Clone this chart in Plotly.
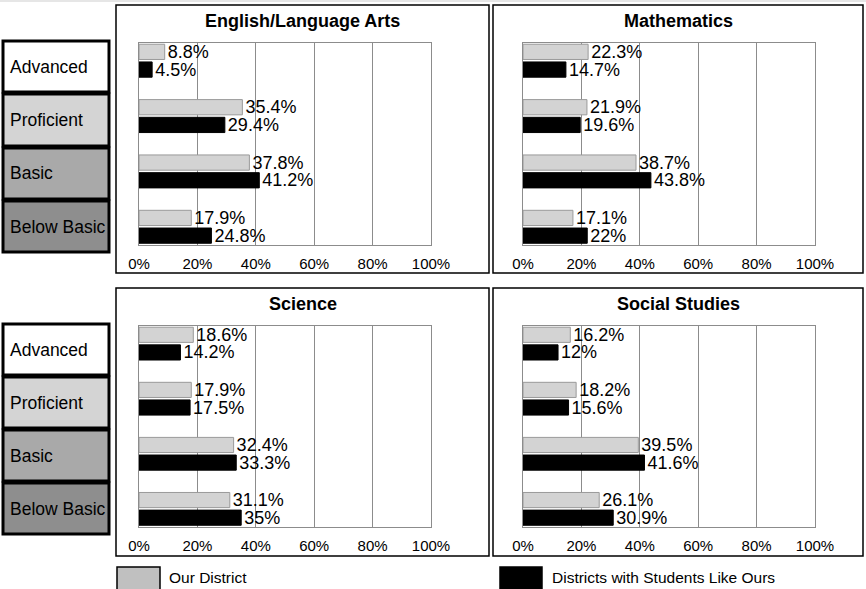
import plotly.graph_objects as go

W, H = 866, 589

categories = ["Advanced", "Proficient", "Basic", "Below Basic"]
subjects = ["English/Language Arts", "Mathematics", "Science", "Social Studies"]

our_ela = [8.8, 35.4, 37.8, 17.9]
like_ela = [4.5, 29.4, 41.2, 24.8]
our_math = [22.3, 21.9, 38.7, 17.1]
like_math = [14.7, 19.6, 43.8, 22]
our_sci = [18.6, 17.9, 32.4, 31.1]
like_sci = [14.2, 17.5, 33.3, 35]
our_ss = [16.2, 18.2, 39.5, 26.1]
like_ss = [12, 15.6, 41.6, 30.9]

tick_vals = [0, 20, 40, 60, 80, 100]
tick_text = ["0%", "20%", "40%", "60%", "80%", "100%"]

series_names = ["Our District", "Districts with Students Like Ours"]
our_vals = [our_ela, our_math, our_sci, our_ss]
like_vals = [like_ela, like_math, like_sci, like_ss]

OUR_COLOR = "#d3d3d3"
LIKE_COLOR = "#000000"
GRID = "#8c8c8c"
MAIN_FONT = "Liberation Sans, Arial, sans-serif"


def px(x):
    return x / W


def py(y):
    return 1 - y / H


# plot areas in pixels: (x0, x1, y0_top, y1_bottom)
areas = [
    (139, 431, 43, 244.5),
    (523, 815, 43, 244.5),
    (139, 431, 326, 526.5),
    (523, 815, 326, 526.5),
]
# outer panel boxes
boxes = [
    (116, 489, 5, 273),
    (493, 863, 5, 273),
    (116, 489, 288, 556),
    (493, 863, 288, 556),
]

fig = go.Figure()

for i in range(4):
    ax = "" if i == 0 else str(i + 1)
    fig.add_trace(go.Bar(
        x=our_vals[i], y=categories, orientation="h",
        name=series_names[0], showlegend=False,
        marker=dict(color=OUR_COLOR, line=dict(color="#9a9a9a", width=1)),
        text=[f"{v:g}%" for v in our_vals[i]], textposition="outside",
        textangle=0, constraintext="none", cliponaxis=False,
        textfont=dict(size=18, color="#000", family=MAIN_FONT),
        xaxis="x" + ax, yaxis="y" + ax, hoverinfo="skip",
    ))
    fig.add_trace(go.Bar(
        x=like_vals[i], y=categories, orientation="h",
        name=series_names[1], showlegend=False,
        marker=dict(color=LIKE_COLOR, line=dict(color="#000", width=1)),
        text=[f"{v:g}%" for v in like_vals[i]], textposition="outside",
        textangle=0, constraintext="none", cliponaxis=False,
        textfont=dict(size=18, color="#000", family=MAIN_FONT),
        xaxis="x" + ax, yaxis="y" + ax, hoverinfo="skip",
    ))

layout = dict(
    width=W, height=H, autosize=False,
    margin=dict(l=0, r=0, t=0, b=0, pad=0, autoexpand=False),
    paper_bgcolor="white", plot_bgcolor="white",
    barmode="group", bargap=0.36, bargroupgap=0.14,
    showlegend=False,
    font=dict(family=MAIN_FONT, color="#000"),
)

shapes = []
annotations = []

for i, (x0, x1, y0, y1) in enumerate(areas):
    ax = "" if i == 0 else str(i + 1)
    layout["xaxis" + ax] = dict(
        domain=[px(x0), px(x1)], anchor="y" + ax, range=[0, 100],
        tickvals=tick_vals, ticktext=tick_text, showgrid=True,
        gridcolor=GRID, gridwidth=1, showline=True, linecolor=GRID,
        linewidth=1, mirror=True, ticks="", zeroline=False,
        tickfont=dict(size=15, family=MAIN_FONT, color="#000"),
        ticklabelstandoff=5, fixedrange=True, automargin=False,
    )
    layout["yaxis" + ax] = dict(
        domain=[py(y1), py(y0)], anchor="x" + ax, type="category",
        categoryorder="array", categoryarray=categories,
        range=[3.32, -0.32], showticklabels=False, showgrid=False,
        showline=True, linecolor=GRID, linewidth=1, mirror=True,
        ticks="", zeroline=False, fixedrange=True, automargin=False,
    )

for i, (x0, x1, y0, y1) in enumerate(boxes):
    shapes.append(dict(type="rect", xref="paper", yref="paper",
                       x0=px(x0), x1=px(x1), y0=py(y1), y1=py(y0),
                       line=dict(color="#000", width=1.5), layer="below"))
    annotations.append(dict(text="<b>" + subjects[i] + "</b>", xref="paper", yref="paper",
                            x=px((x0 + x1) / 2), y=py(y0 + 16), xanchor="center",
                            yanchor="middle", showarrow=False,
                            font=dict(size=18, family=MAIN_FONT, color="#000")))

# left category label boxes
row_fills = ["#ffffff", "#d4d4d4", "#a9a9a9", "#8e8e8e"]
row_edges_sets = [[40, 93, 147, 200, 253], [323, 376, 429, 482, 535]]
for edges in row_edges_sets:
    for k in range(4):
        shapes.append(dict(type="rect", xref="paper", yref="paper",
                           x0=px(3), x1=px(109), y0=py(edges[k + 1] - 1), y1=py(edges[k] + 1),
                           fillcolor=row_fills[k], line=dict(color="#000", width=3)))
        annotations.append(dict(text=categories[k], xref="paper", yref="paper",
                                x=px(8), y=py((edges[k] + edges[k + 1]) / 2), xanchor="left",
                                yanchor="middle", showarrow=False,
                                font=dict(size=17.5, family=MAIN_FONT, color="#000")))

# top thin gray strip
shapes.append(dict(type="rect", xref="paper", yref="paper", x0=0, x1=1,
                   y0=py(2), y1=1, fillcolor="#e6e6e6", line=dict(width=0)))

# legend
shapes.append(dict(type="rect", xref="paper", yref="paper", x0=px(117), x1=px(160),
                   y0=py(592), y1=py(567), fillcolor="#c0c0c0",
                   line=dict(color="#000", width=1.5)))
annotations.append(dict(text=series_names[0], xref="paper", yref="paper",
                        x=px(167), y=py(577), xanchor="left", yanchor="middle",
                        showarrow=False, font=dict(size=15.5, family=MAIN_FONT, color="#000")))
shapes.append(dict(type="rect", xref="paper", yref="paper", x0=px(500), x1=px(542),
                   y0=py(592), y1=py(567), fillcolor="#000",
                   line=dict(color="#000", width=1.5)))
annotations.append(dict(text=series_names[1], xref="paper", yref="paper",
                        x=px(550), y=py(577), xanchor="left", yanchor="middle",
                        showarrow=False, font=dict(size=15.5, family=MAIN_FONT, color="#000")))

layout["shapes"] = shapes
layout["annotations"] = annotations
fig.update_layout(**layout)

fig.write_html("out.html",
               config={"displayModeBar": False, "responsive": False},
               post_script="document.body.style.margin='0';document.body.style.overflow='hidden';")
